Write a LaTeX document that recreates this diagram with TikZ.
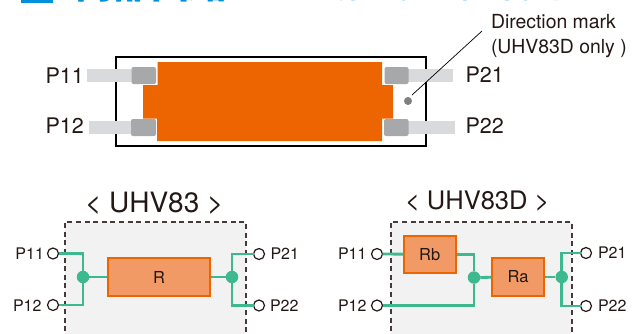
\documentclass[tikz,border=0pt]{standalone}
\usepackage{fontspec}
\setmainfont{TeX Gyre Heros}
\newfontfamily\cjkfont{Noto Sans CJK JP}
\definecolor{headblue}{HTML}{0090DB}
\definecolor{inkdark}{HTML}{231815}
\definecolor{bodyor}{HTML}{EC6500}
\definecolor{boxfill}{HTML}{F29A66}
\definecolor{padgray}{HTML}{A7A8AA}
\definecolor{leadgray}{HTML}{D9DADB}
\definecolor{markgray}{HTML}{808080}
\definecolor{panelgray}{HTML}{F2F2F2}
\definecolor{wiregreen}{HTML}{3DB88F}
\tikzset{
  txt/.style={inner sep=0pt,outer sep=0pt,text=inkdark,anchor=base west},
  bigpin/.style={txt,font=\fontsize{21.5}{24}\selectfont},
  smallpin/.style={txt,font=\fontsize{16}{19}\selectfont},
  notetxt/.style={txt,font=\fontsize{19.4}{22}\selectfont},
  leadbar/.style={fill=leadgray,draw=none},
  pad/.style={fill=padgray,draw=none,rounded corners=2pt},
  panel/.style={fill=panelgray,draw=none},
  dashedge/.style={draw=inkdark!85,line width=1.2pt,dash pattern=on 5pt off 3.6pt},
  wire/.style={draw=wiregreen,line width=2.8pt,line join=miter},
  term/.style={circle,draw=inkdark,fill=white,line width=1.2pt,minimum size=11pt,inner sep=0pt,outer sep=0pt},
  junc/.style={circle,fill=wiregreen,minimum size=12.5pt,inner sep=0pt,outer sep=0pt},
  res/.style={draw=bodyor,fill=boxfill,line width=1.6pt,inner sep=0pt,outer sep=0.8pt,text=inkdark,font=\fontsize{16.5}{19}\selectfont,anchor=center},
  hblue/.style={inner sep=0pt,outer sep=0pt,anchor=base west,text=headblue}
}
\begin{document}
\begin{tikzpicture}[x=1pt,y=-1pt]
\useasboundingbox (0,0) rectangle (640,333);
\clip (0,0) rectangle (640,333);
\fill[white] (0,0) rectangle (640,333);
% clipped heading
\fill[headblue] (21,-5) rectangle (53,2.5);
\node[hblue,font=\cjkfont\bfseries\fontsize{38}{40}\selectfont] (hjp) at (75,-1.5) {内部回路};
\node[hblue,font=\bfseries\fontsize{34}{36}\selectfont] (hen1) at (303,0.7) {Internal};
\node[hblue,font=\bfseries\fontsize{35}{36}\selectfont] (hen2) at (455,0.7) {circuit};
% package
\draw[black,line width=1.8pt] (116,57) rectangle (426,146);
\fill[bodyor] (157.5,62) -- (382,62) -- (382,85) -- (393,85) -- (393,118.5) -- (382,118.5) -- (382,141) -- (157,141) -- (157,118.5) -- (143,118.5) -- (143,85) -- (157.5,85) -- cycle;
\fill[leadbar] (87,69) rectangle (133,82);
\fill[leadbar] (89,121) rectangle (133,134);
\fill[leadbar] (407,69) rectangle (453,82);
\fill[leadbar] (407,121) rectangle (455,134);
\fill[pad] (131.5,67) rectangle (156,84);
\fill[pad] (131,119) rectangle (156,136);
\fill[pad] (384.5,67) rectangle (408.5,84);
\fill[pad] (384,119) rectangle (408.5,136);
\node[bigpin] (tp11) at (45.5,83) {P11};
\node[bigpin] (tp12) at (45.5,133) {P12};
\node[bigpin] (tp21) at (465.5,82) {P21};
\node[bigpin] (tp22) at (465.5,133) {P22};
\node[circle,fill=markgray,minimum size=8pt,inner sep=0pt] (dirmark) at (408,101) {};
\coordinate (leadend) at (482,31);
\draw[black,line width=0.7pt] (412,95) -- (leadend);
\node[notetxt] (note1) at (491,28) {Direction mark};
\node[notetxt] (note2) at (491,53) {(UHV83D only )};
% panels
\fill[panel] (65,222) rectangle (246,340);
\draw[dashedge] (65,340) -- (65,222) -- (246,222) -- (246,340);
\fill[panel] (391,222) rectangle (572,340);
\draw[dashedge] (391,340) -- (391,222) -- (572,222) -- (572,340);
\node[txt,font=\fontsize{28}{30}\selectfont] (t1) at (85,212) {< UHV83 >};
\node[txt,font=\fontsize{25.5}{28}\selectfont] (t2) at (405,209) {< UHV83D >};
% left circuit
\node[term] (a11) at (53,253.5) {};
\node[term] (a12) at (53,305) {};
\node[term] (a21) at (259,254) {};
\node[term] (a22) at (259,305.5) {};
\node[junc] (aj1) at (83,277) {};
\node[junc] (aj2) at (232,277) {};
\node[res,minimum width=102pt,minimum height=38pt] (R) at (159,277) {R};
\draw[wire] (a11) -| (aj1);
\draw[wire] (a12) -| (aj1);
\draw[wire] (aj1) -- (R);
\draw[wire] (R) -- (aj2);
\draw[wire] (a21) -| (aj2);
\draw[wire] (a22) -| (aj2);
\node[smallpin] (la11) at (15.5,259) {P11};
\node[smallpin] (la12) at (13,311) {P12};
\node[smallpin] (la21) at (270.5,259) {P21};
\node[smallpin] (la22) at (270,311) {P22};
% right circuit
\node[term] (b11) at (377,254) {};
\node[term] (b12) at (377,305.5) {};
\node[term] (b21) at (586,253) {};
\node[term] (b22) at (586,306) {};
\node[junc] (bj1) at (474,277.5) {};
\node[junc] (bj2) at (561.7,277) {};
\node[res,minimum width=52pt,minimum height=37pt] (Rb) at (429.7,254.3) {Rb};
\node[res,minimum width=52pt,minimum height=38pt] (Ra) at (518,277) {Ra};
\draw[wire] (b11) -- (Rb);
\draw[wire] (Rb) -| (bj1);
\draw[wire] (b12) -| (bj1);
\draw[wire] (bj1) -- (Ra);
\draw[wire] (Ra) -- (bj2);
\draw[wire] (b21) -| (bj2);
\draw[wire] (b22) -| (bj2);
\node[smallpin] (lb11) at (338,259) {P11};
\node[smallpin] (lb12) at (338,311) {P12};
\node[smallpin] (lb21) at (598,258) {P21};
\node[smallpin] (lb22) at (598,311) {P22};
\end{tikzpicture}
\end{document}
